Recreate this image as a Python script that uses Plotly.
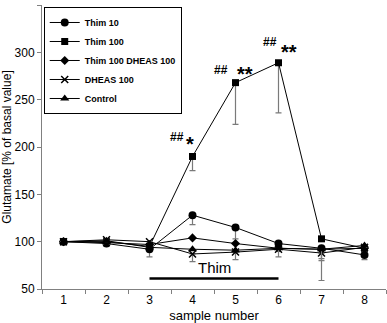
import plotly.graph_objects as go

samples = [1, 2, 3, 4, 5, 6, 7, 8]
x_ticks = ["1", "2", "3", "4", "5", "6", "7", "8"]

thim10 = [100, 98, 92, 128, 115, 98, 93, 86]
thim10_err = [0, 3, 8, 10, 12, 0, 0, 5]
thim100 = [100, 100, 95, 190, 268, 289, 103, 93]
thim100_err = [0, 0, 0, 15, 44, 53, 0, 0]
thim100_dheas100 = [100, 99, 97, 104, 98, 93, 92, 93]
thim100_dheas100_err = [0, 2, 0, 0, 0, 0, 10, 0]
dheas100 = [100, 102, 100, 87, 89, 92, 88, 94]
dheas100_err = [0, 2, 0, 8, 8, 0, 29, 0]
control = [100, 101, 94, 92, 91, 93, 92, 96]
control_err = [0, 0, 0, 0, 0, 9, 12, 0]

series = [
    ("Thim 10", thim10, thim10_err, "circle", 8),
    ("Thim 100", thim100, thim100_err, "square", 7),
    ("Thim 100 DHEAS 100", thim100_dheas100, thim100_dheas100_err, "diamond", 7),
    ("DHEAS 100", dheas100, dheas100_err, "x-thin", 7),
    ("Control", control, control_err, "triangle-up", 8),
]

# significance labels: (x, y, text, size)
sig_labels = [
    (3.63, 211, "##", 12),
    (3.95, 203, "*", 20),
    (4.67, 281, "##", 12),
    (5.22, 277, "**", 20),
    (5.81, 311, "##", 12),
    (6.24, 300, "**", 20),
]

FONT = "Arial, Liberation Sans, sans-serif"
fig = go.Figure()
for i, (name, vals, errs, sym, sz) in enumerate(series):
    marker = dict(symbol=sym, size=sz, color="black")
    if sym == "x-thin":
        marker["line"] = dict(color="black", width=1.5)
    fig.add_trace(go.Scatter(
        x=samples, y=vals, name=name, mode="lines+markers",
        line=dict(color="black", width=1),
        marker=marker,
        error_y=dict(type="data", symmetric=False, array=[0] * len(errs),
                     arrayminus=errs, color="#7a7a7a", thickness=1.2, width=3),
    ))

for (xx, yy, t, s) in sig_labels:
    fig.add_annotation(x=xx, y=yy, text=f"<b>{t}</b>", showarrow=False,
                       font=dict(family=FONT, size=s, color="black"))

fig.add_annotation(x=4.5, y=73, text="Thim", showarrow=False,
                   font=dict(family=FONT, size=15, color="black"))
fig.add_shape(type="line", x0=3, x1=6, y0=61, y1=61, xref="x", yref="y",
              line=dict(color="black", width=2.5))

fig.update_layout(
    width=387, height=323,
    margin=dict(l=42, r=1, t=5, b=34),
    plot_bgcolor="white", paper_bgcolor="white",
    font=dict(family=FONT, size=12, color="black"),
    showlegend=True,
    legend=dict(x=0.005, y=0.993, xanchor="left", yanchor="top",
                bordercolor="black", borderwidth=1, bgcolor="white",
                font=dict(family=FONT, size=9, color="black", weight="bold"),
                traceorder="normal", itemwidth=30),
    xaxis=dict(range=[0.5, 8.5], tickmode="array", tickvals=samples, ticktext=x_ticks,
               showline=True, linecolor="#808080", linewidth=1,
               ticks="", showgrid=False, zeroline=False,
               title=dict(text="sample number", font=dict(size=13), standoff=4),
               tickfont=dict(size=12)),
    yaxis=dict(range=[50, 350], tickvals=[50, 100, 150, 200, 250, 300, 350],
               showline=True, linecolor="#808080", linewidth=1,
               ticks="outside", ticklen=4, tickcolor="#808080",
               showgrid=False, zeroline=False,
               title=dict(text="Glutamate [% of basal value]", font=dict(size=12), standoff=4),
               tickfont=dict(size=12)),
)

# x-axis tick marks between categories (minor ticks at half positions)
fig.update_xaxes(minor=dict(tickvals=[0.5, 1.5, 2.5, 3.5, 4.5, 5.5, 6.5, 7.5, 8.5],
                            ticks="outside", ticklen=4, tickcolor="#808080"))

fig.write_html("out.html", config={"displayModeBar": False},
               post_script="document.body.style.margin='0';")
